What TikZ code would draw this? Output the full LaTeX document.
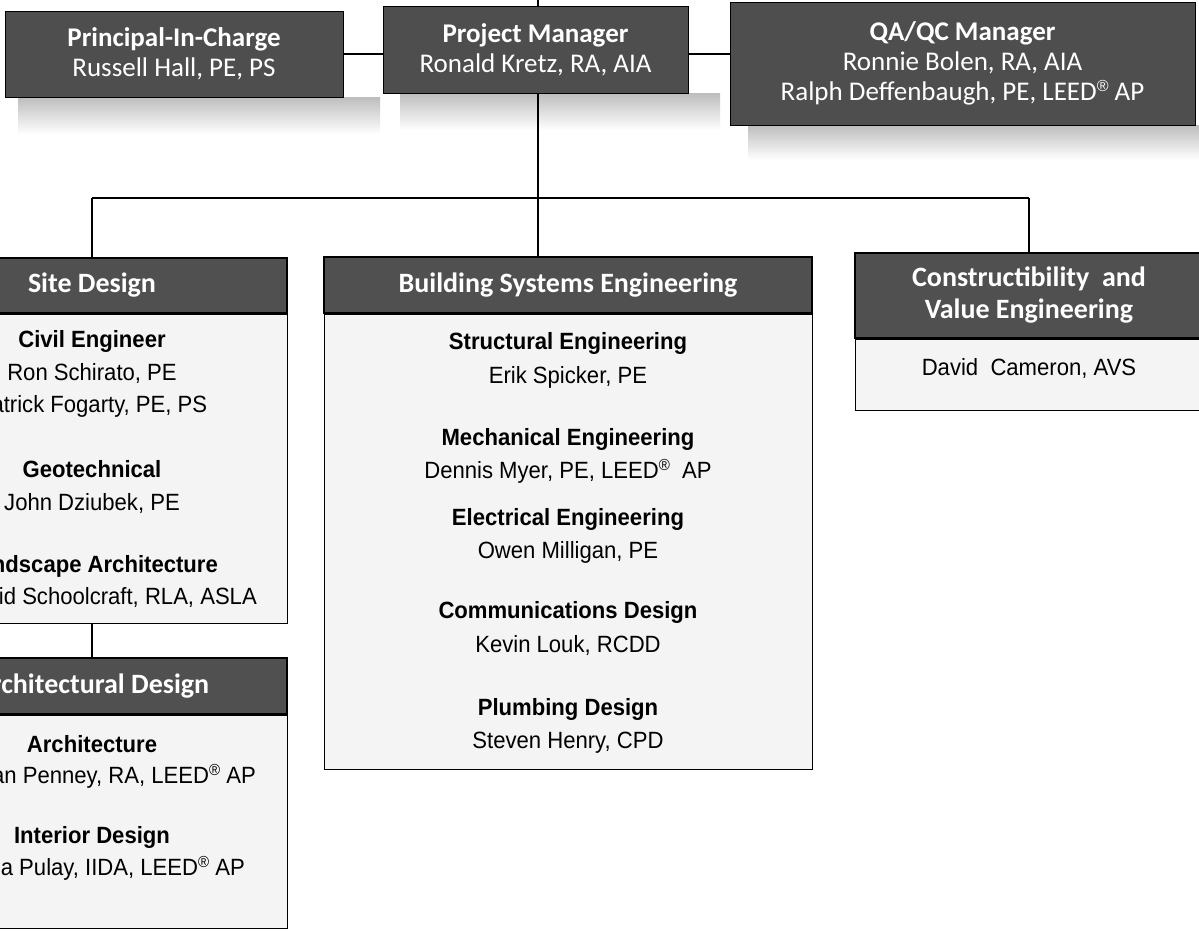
\documentclass[tikz,border=0pt]{standalone}
\usepackage{fontspec}
\setmainfont{Liberation Sans}
\newfontfamily\hfont{Carlito}
\newfontfamily\bfont[FakeStretch=0.94]{Liberation Sans}
\definecolor{hdrc}{HTML}{505050}
\definecolor{topc}{HTML}{4E4E4E}
\definecolor{bodyc}{HTML}{F4F4F4}
\newcommand\myreg[2]{\raisebox{#1}{\fontsize{#2}{#2}\selectfont ®}}
\tikzset{
  topbox/.style={draw=black, line width=1pt, fill=topc, text=white, font=\hfont\fontsize{27}{30}\selectfont, align=center, inner sep=0pt},
  hdrbox/.style={draw=black, line width=1.2pt, fill=hdrc, text=white, font=\hfont\bfseries\fontsize{28}{32}\selectfont, align=center, inner sep=0pt},
  bodybox/.style={draw=black, line width=1pt, fill=bodyc, inner sep=0pt},
  ttl/.style={font=\bfont\bfseries\fontsize{23.5}{33}\selectfont, inner sep=0pt, anchor=base},
  nm/.style={font=\bfont\fontsize{23.5}{33}\selectfont, inner sep=0pt, anchor=base},
  link/.style={draw=black, line width=1.3pt},
  softshadow/.style={top color=black!26, bottom color=white, draw=none},
}
\begin{document}
\begin{tikzpicture}[x=1pt,y=-1pt]
\useasboundingbox (0,0) rectangle (1199,932);
\clip (0,0) rectangle (1199,932);
\fill[white] (0,0) rectangle (1199,932);

% soft shadows below the top boxes
\shade[softshadow] (18,97) rectangle (380,134);
\shade[softshadow] (400,93) rectangle (720,130);
\shade[softshadow] (748,125) rectangle (1199,160);

% top boxes
\node[topbox, minimum width=338pt, minimum height=86pt] (pic) at (174,54)
  {\textbf{Principal-In-Charge}\\Russell Hall, PE, PS};
\node[topbox, minimum width=465pt, minimum height=123pt] (qa) at (962.5,63.5)
  {\textbf{QA/QC Manager}\\Ronnie Bolen, RA, AIA\\Ralph Deffenbaugh, PE, LEED{\fontspec{Liberation Sans}\myreg{9pt}{16}} AP};

\coordinate (ptop) at (538,0);
\coordinate (jM) at (538,198);
\coordinate (jL) at (92,198);
\coordinate (jR) at (1029,198);

\draw[link] (pic.east) -- (pic.east -| qa.west);
\draw[link] (ptop) -- (jM);
\draw[link] (jL) -- (jR);

\node[topbox, minimum width=305pt, minimum height=87pt] (pm) at (535.5,49.5)
  {\textbf{Project Manager}\\Ronald Kretz, RA, AIA};

% department headers
\node[hdrbox, minimum width=390pt, minimum height=55pt] (siteH) at (92,285.5) {Site Design};
\node[bodybox, minimum width=390pt, minimum height=309pt, anchor=north] (siteB) at (siteH.south) {};
\node[hdrbox, minimum width=390pt, minimum height=56pt] (archH) at (92,686) {Architectural Design};
\node[bodybox, minimum width=390pt, minimum height=213pt, anchor=north] (archB) at (archH.south) {};
\node[hdrbox, minimum width=488pt, minimum height=56pt] (bseH) at (568,285) {Building Systems Engineering};
\node[bodybox, minimum width=488pt, minimum height=455pt, anchor=north] (bseB) at (bseH.south) {};
\node[hdrbox, minimum width=348pt, minimum height=85pt] (cveH) at (1029,295.5) {Constructibility\ \ and\\Value Engineering};
\node[bodybox, minimum width=348pt, minimum height=71pt, anchor=north] (cveB) at (cveH.south) {};

% connectors to the departments
\draw[link] (jL) -- (siteH.north);
\draw[link] (jM) -- (jM |- bseH.north);
\draw[link] (jR) -- (cveH.north);
\draw[link] (siteB.south) -- (archH.north);

% Site Design texts
\node[ttl] (s1) at (92,347) {Civil Engineer};
\node[nm] (s2) at (92,380) {Ron Schirato, PE};
\node[nm] (s3) at (92,412) {Patrick Fogarty, PE, PS};
\node[ttl] (s4) at (92,477) {Geotechnical};
\node[nm] (s5) at (92,510) {John Dziubek, PE};
\node[ttl] (s6) at (92,572) {Landscape Architecture};
\node[nm, anchor=base east] (s7) at (257,604) {David Schoolcraft, RLA, ASLA};

% Architectural Design texts
\node[ttl] (a1) at (92,752) {Architecture};
\node[nm, anchor=base east] (a2) at (256,783) {Bryan Penney, RA, LEED\myreg{8pt}{16} AP};
\node[ttl] (a3) at (92,843) {Interior Design};
\node[nm, anchor=base east] (a4) at (245,875) {Lisa Pulay, IIDA, LEED\myreg{8pt}{16} AP};

% Building Systems Engineering texts
\node[ttl] (b1) at (568,349) {Structural Engineering};
\node[nm] (b2) at (568,383) {Erik Spicker, PE};
\node[ttl] (b3) at (568,445) {Mechanical Engineering};
\node[nm] (b4) at (568,478) {Dennis Myer, PE, LEED\myreg{8pt}{16}\ \ AP};
\node[ttl] (b5) at (568,525) {Electrical Engineering};
\node[nm] (b6) at (568,558) {Owen Milligan, PE};
\node[ttl] (b7) at (568,618) {Communications Design};
\node[nm] (b8) at (568,652) {Kevin Louk, RCDD};
\node[ttl] (b9) at (568,715) {Plumbing Design};
\node[nm] (b10) at (568,748) {Steven Henry, CPD};

% Constructibility texts
\node[nm] (c1) at (1029,375) {David\ \ Cameron, AVS};
\end{tikzpicture}
\end{document}
